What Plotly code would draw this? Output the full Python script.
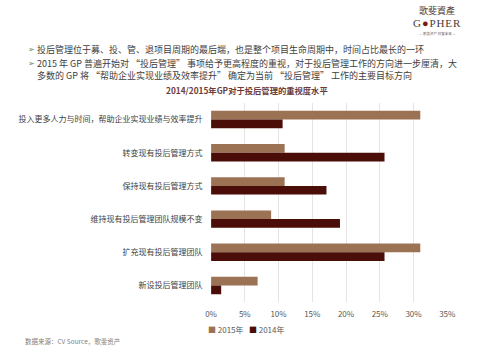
import plotly.graph_objects as go

categories = [
    "投入更多人力与时间，帮助企业实现业绩与效率提升",
    "转变现有投后管理方式",
    "保持现有投后管理方式",
    "维持现有投后管理团队规模不变",
    "扩充现有投后管理团队",
    "新设投后管理团队",
]
series_names = ["2015年", "2014年"]
values_2015 = [31.0, 10.9, 10.9, 8.9, 31.0, 6.9]
values_2014 = [10.6, 25.7, 17.1, 19.1, 25.7, 1.5]
tick_vals = [0, 5, 10, 15, 20, 25, 30, 35]
tick_text = ["0%", "5%", "10%", "15%", "20%", "25%", "30%", "35%"]
colors = ["#9c7254", "#4b0d07"]

CJK = "Noto Sans CJK SC"

fig = go.Figure()
fig.add_trace(go.Bar(y=categories, x=values_2015, orientation="h", name=series_names[0],
                     marker=dict(color=colors[0], line=dict(width=0))))
fig.add_trace(go.Bar(y=categories, x=values_2014, orientation="h", name=series_names[1],
                     marker=dict(color=colors[1], line=dict(width=0))))

fig.update_layout(
    width=480, height=360,
    margin=dict(l=0, r=0, t=0, b=0),
    paper_bgcolor="white", plot_bgcolor="white",
    barmode="group", bargap=0.475, bargroupgap=0,
    showlegend=False,
    font=dict(family=CJK),
    xaxis=dict(domain=[0.441, 0.949], range=[0, 35], tickvals=tick_vals, ticktext=tick_text,
               showgrid=True, gridcolor="#e4e4e4", gridwidth=1, zeroline=False,
               showline=False, tickfont=dict(family=CJK, size=8, color="#595959"),
               ticks="outside", ticklen=4, tickcolor="rgba(0,0,0,0)"),
    yaxis=dict(domain=[0.161, 0.714], autorange="reversed", showgrid=False,
               showline=False, zeroline=False,
               tickfont=dict(family=CJK, size=8, color="#404040"),
               ticks="outside", ticklen=6, tickcolor="rgba(0,0,0,0)"),
)

legend_text = "   ".join(
    f"<span style='color:{c}'>■</span> {n}" for c, n in zip(colors, series_names))

hs = "\u200a"
logo_word = hs.join(["G", "<span style='color:#7a1a14'>●</span>", "P", "H", "E", "R"])

annotations = [
    dict(text="<b>2014/2015年GP对于投后管理的重视度水平</b>", x=249/480, y=1-90/360,
         font=dict(family=CJK, size=8.3, color="#6b3b3b")),
    dict(text=legend_text, x=206/480, y=1-329/360, xanchor="left",
         font=dict(family=CJK, size=8, color="#595959")),
    dict(text="数据来源：CV Source，歌斐资产", x=18/480, y=1-341/360, xanchor="left",
         font=dict(family=CJK, size=6.5, color="#7f7f7f")),
    # header bullets
    dict(text="➢", x=21/480, y=1-50/360, xanchor="left", font=dict(family="DejaVu Sans", size=8, color="#5b8c5a")),
    dict(text="➢", x=21/480, y=1-63/360, xanchor="left", font=dict(family="DejaVu Sans", size=8, color="#5b8c5a")),
    dict(text="投后管理位于募、投、管、退项目周期的最后端，也是整个项目生命周期中，时间占比最长的一环",
         x=30/480, y=1-50/360, xanchor="left", font=dict(family=CJK, size=9.0, color="#404040")),
    dict(text="2015 年 GP 普遍开始对 “投后管理” 事项给予更高程度的重视，对于投后管理工作的方向进一步厘清，大",
         x=30/480, y=1-63/360, xanchor="left", font=dict(family=CJK, size=9.0, color="#404040")),
    dict(text="多数的 GP 将 “帮助企业实现业绩及效率提升” 确定为当前 “投后管理” 工作的主要目标方向",
         x=30/480, y=1-75/360, xanchor="left", font=dict(family=CJK, size=9.0, color="#404040")),
    # logo
    dict(text="歌斐資產", x=445/480, y=1-10/360, font=dict(family="Noto Sans CJK TC", size=9, color="#4a3a3a")),
    dict(text=logo_word, x=445/480, y=1-23/360,
         font=dict(family="Liberation Serif", size=11, color="#4a3a3a")),
    dict(text="— 歌斐资产 财富未来 —", x=445/480, y=1-33/360, font=dict(family=CJK, size=3.5, color="#7a6a6a")),
]
for a in annotations:
    a.update(xref="paper", yref="paper", showarrow=False)
    a.setdefault("xanchor", "center")
    a.setdefault("yanchor", "middle")
fig.update_layout(annotations=annotations)

fig.write_html("out.html", config={"displayModeBar": False},
               post_script="document.body.style.margin='0';")
